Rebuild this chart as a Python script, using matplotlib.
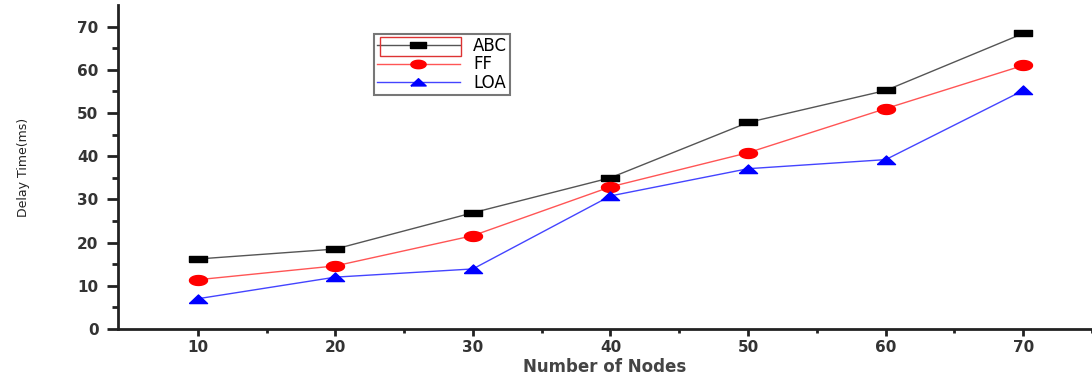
import matplotlib
matplotlib.use('Agg')
import matplotlib.pyplot as plt
import numpy as np
from matplotlib.path import Path
from matplotlib.patches import Rectangle

# данные
nodes = [10, 20, 30, 40, 50, 60, 70]
abc = [16.2, 18.5, 26.9, 35.0, 47.8, 55.2, 68.4]
ff = [11.4, 14.6, 21.6, 32.9, 40.8, 51.0, 61.0]
loa = [7.0, 12.0, 13.9, 30.8, 37.1, 39.2, 55.2]

x_ticks = [10, 20, 30, 40, 50, 60, 70]
y_ticks = [0, 10, 20, 30, 40, 50, 60, 70]


def main():
    # маркеры на исходной картинке растянуты по горизонтали
    square = [(-1, -0.38), (1, -0.38), (1, 0.38), (-1, 0.38), (-1, -0.38)]
    t = np.linspace(0, 2 * np.pi, 40)
    ellipse = Path(np.column_stack([np.cos(t), 0.55 * np.sin(t)]))
    triangle = [(-1, -0.45), (1, -0.45), (0, 0.5), (-1, -0.45)]

    fig = plt.figure(figsize=(10.92, 3.81), dpi=100)
    ax = fig.add_axes([0.108, 0.1365, 0.892, 0.8505])

    ax.plot(nodes, abc, color='#555555', lw=1, marker=square, ms=13,
            mfc='black', mec='black', label='ABC')
    ax.plot(nodes, ff, color='#ff5555', lw=1, marker=ellipse, ms=13,
            mfc='red', mec='red', label='FF')
    ax.plot(nodes, loa, color='#4444ff', lw=1, marker=triangle, ms=13,
            mfc='blue', mec='blue', label='LOA')

    ax.set_xlim(4.2, 75)
    ax.set_ylim(0, 75)
    ax.set_xticks(x_ticks)
    ax.set_yticks(y_ticks)
    ax.set_xticks([15, 25, 35, 45, 55, 65, 75], minor=True)
    ax.set_yticks([5, 15, 25, 35, 45, 55, 65], minor=True)

    for side in ['top', 'right']:
        ax.spines[side].set_visible(False)
    for side in ['left', 'bottom']:
        ax.spines[side].set_linewidth(2)
        ax.spines[side].set_color('#222222')

    ax.tick_params(which='both', direction='out', width=2, color='#222222')
    ax.tick_params(axis='y', which='major', length=8, labelsize=11, labelcolor='#333333', pad=6)
    ax.tick_params(axis='y', which='minor', length=4)
    ax.tick_params(axis='x', which='major', length=5, labelsize=11, labelcolor='#333333', pad=3)
    ax.tick_params(axis='x', which='minor', length=3)
    for lab in ax.get_xticklabels() + ax.get_yticklabels():
        lab.set_fontweight('bold')

    ax.set_xlabel('Number of Nodes', fontsize=12, fontweight='bold', color='#444444', labelpad=2)
    ax.set_ylabel('Delay Time(ms)', fontsize=9, color='#222222', labelpad=34)

    leg = ax.legend(loc='upper left', bbox_to_anchor=(0.263, 0.91), fontsize=12,
                    frameon=True, fancybox=False, borderpad=0.15, labelspacing=0.05,
                    handlelength=5.0, handletextpad=0.8, borderaxespad=0)
    leg.get_frame().set_edgecolor('#555555')
    leg.get_frame().set_linewidth(1.5)
    for h in leg.legend_handles:
        h.set_markersize(11)

    # красная рамка вокруг записи ABC
    fig.patches.append(Rectangle((380 / 1092, 1 - 56 / 381), 81 / 1092, 19 / 381,
                                 transform=fig.transFigure, fill=False,
                                 edgecolor='#dd3333', lw=1))

    fig.savefig('out.png', dpi=100)


if __name__ == '__main__':
    main()
